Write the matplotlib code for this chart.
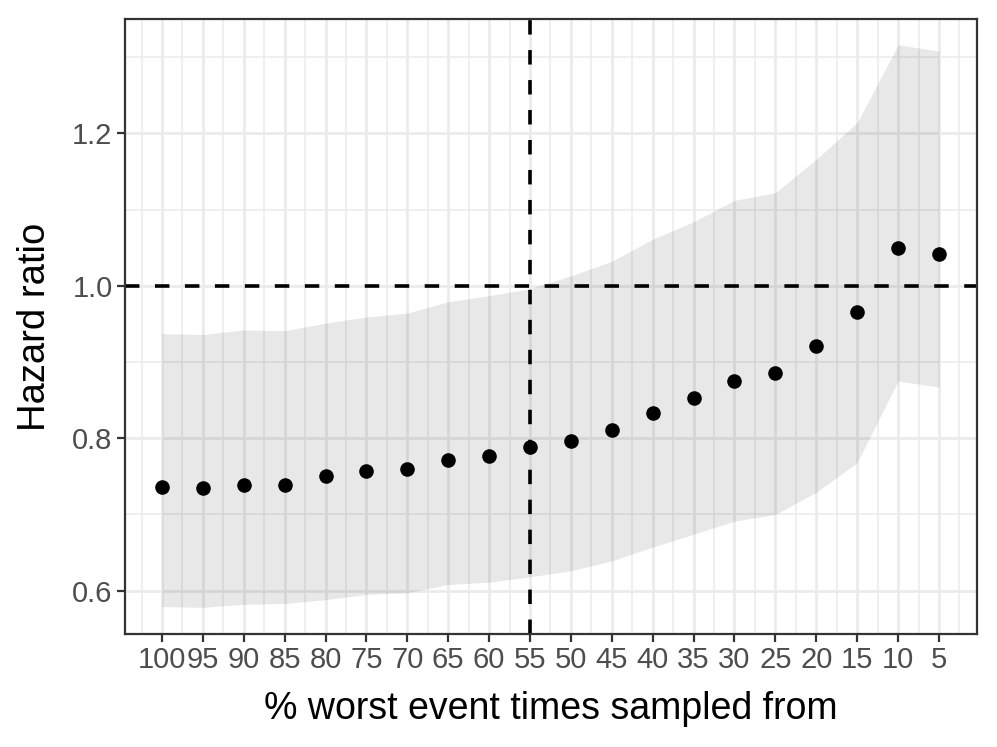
import numpy as np
import matplotlib
matplotlib.use("Agg")
import matplotlib.pyplot as plt
from matplotlib.ticker import MultipleLocator

plt.rcParams['font.family'] = ['Liberation Sans', 'DejaVu Sans']

# % worst event times sampled from
pct = [100, 95, 90, 85, 80, 75, 70, 65, 60, 55, 50, 45, 40, 35, 30, 25, 20, 15, 10, 5]
hr = [0.736, 0.734, 0.739, 0.739, 0.750, 0.757, 0.760, 0.771, 0.776, 0.788,
      0.796, 0.811, 0.833, 0.853, 0.875, 0.886, 0.921, 0.966, 1.050, 1.041]
hr_upper = [0.937, 0.936, 0.942, 0.941, 0.951, 0.959, 0.964, 0.979, 0.987, 0.996,
            1.013, 1.032, 1.061, 1.084, 1.112, 1.122, 1.166, 1.214, 1.316, 1.308]
hr_lower = [0.579, 0.578, 0.582, 0.583, 0.588, 0.595, 0.597, 0.608, 0.611, 0.618,
            0.626, 0.639, 0.657, 0.674, 0.691, 0.700, 0.729, 0.768, 0.875, 0.867]
cutoff = 55
y_ticks = [0.6, 0.8, 1.0, 1.2]

fig = plt.figure(figsize=(9.97, 7.47), dpi=100)
ax = fig.add_axes([125 / 997, 1 - 634 / 747, 852 / 997, 615 / 747])

grid_col = '#ebebeb'
ax.set_axisbelow(True)
ax.xaxis.set_minor_locator(MultipleLocator(2.5))
ax.yaxis.set_minor_locator(MultipleLocator(0.1))
ax.grid(which='major', color=grid_col, linewidth=2.0)
ax.grid(which='minor', color=grid_col, linewidth=1.1)
ax.tick_params(which='minor', length=0)

ax.fill_between(pct, hr_lower, hr_upper, color='black', alpha=0.09, linewidth=0)
ax.scatter(pct, hr, s=110, color='black', zorder=3, linewidths=0)

# reference lines (HR = 1 and the chosen cut-off)
ax.axhline(1.0, color='black', linewidth=2.6, dashes=(4, 4.3), zorder=2)
ax.axvline(cutoff, color='black', linewidth=2.6, dashes=(4, 4.3), zorder=2)

ax.set_xlim(104.52, 0.35)
ax.set_ylim(0.543, 1.35)
ax.set_xticks(pct)
ax.set_xticklabels([str(p) for p in pct])
ax.set_yticks(y_ticks)
ax.set_yticklabels([f'{v:.1f}' for v in y_ticks])

for s in ax.spines.values():
    s.set_color('#333333')
    s.set_linewidth(1.6)
ax.tick_params(which='major', length=6, width=1.6, color='#333333',
               labelsize=21, labelcolor='#4d4d4d', pad=3)

ax.set_xlabel('% worst event times sampled from', fontsize=27, labelpad=12)
ax.set_ylabel('Hazard ratio', fontsize=27.5, labelpad=14)

plt.savefig('out.png', dpi=100)
